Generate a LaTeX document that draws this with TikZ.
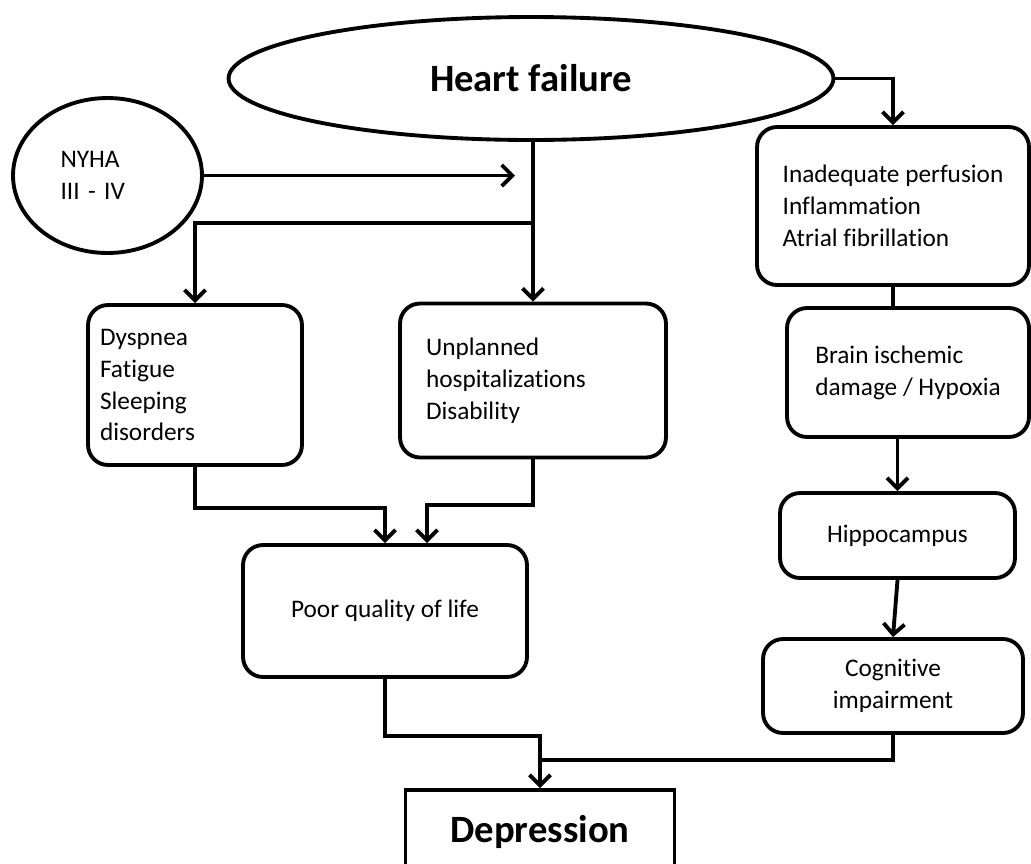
\documentclass[tikz,border=0pt]{standalone}
\usepackage{fontspec}
\setmainfont{Carlito}[Ligatures=NoCommon]
\usetikzlibrary{positioning,shapes.geometric,arrows.meta,calc}

\begin{document}
\begin{tikzpicture}[
    x=0.02cm, y=-0.02cm,
    every node/.style={font=\fontsize{14.4}{18.2}\selectfont},
    box/.style={rectangle, rounded corners=0.4cm, draw=black, line width=2.2pt, align=left},
    oval/.style={ellipse, draw=black, line width=2.2pt, inner sep=0pt},
    title/.style={font=\fontsize{22}{26}\selectfont\bfseries},
    arrow/.style={-{Straight Barb[length=6pt,width=12pt]}, line width=2.2pt},
    line/.style={line width=2.2pt}
]
    \useasboundingbox (0,0) rectangle (1031,863);
    \clip (0,0) rectangle (1031,863);

    \node[oval, title, minimum width=12.1cm, minimum height=2.46cm] (hf) at (531,78.5) {Heart failure};

    \node[oval, minimum width=3.78cm, minimum height=3.1cm, text width=1.88cm, align=left] (nyha) at (107.5,175.5) {
        NYHA \\
        III - IV
    };

    \node[box, minimum width=4.28cm, minimum height=3.2cm, text width=3.8cm, inner xsep=0.24cm] (dysp) at (195,385) {
        Dyspnea \\
        Fatigue \\
        Sleeping \\
        disorders
    };

    \node[box, minimum width=5.32cm, minimum height=3.08cm, text width=4.28cm, inner xsep=0.52cm] (unpl) at (533,380.5) {
        Unplanned \\
        hospitalizations \\
        Disability
    };

    \node[box, minimum width=5.68cm, minimum height=2.64cm, align=center] (poor) at (385,611) {Poor quality of life};

    \node[box, minimum width=5.44cm, minimum height=3.16cm] (inad) at (893,206) {
        Inadequate perfusion \\
        Inflammation \\
        Atrial fibrillation
    };

    \node[box, minimum width=4.84cm, minimum height=2.58cm] (brain) at (908,372.5) {
        Brain ischemic \\
        damage / Hypoxia
    };

    \node[box, minimum width=4.7cm, minimum height=1.7cm, align=center] (hippo) at (897.5,535.5) {Hippocampus};

    \node[box, minimum width=5.2cm, minimum height=1.88cm, align=center] (cog) at (893,686) {
        Cognitive \\
        impairment
    };

    \node[rectangle, draw=black, line width=2.2pt, title, minimum width=5.38cm, minimum height=1.68cm] (depr) at (540,832) {Depression};

    \coordinate (nyhaend) at (515,175.5);
    \coordinate (split) at (533,223);
    \coordinate (merge) at (540,760);

    % upper part
    \draw[arrow] (nyha.east) -- (nyhaend);
    \draw[arrow] (hf.south -| unpl.north) -- (unpl.north);
    \draw[arrow] (split) -| (dysp.north);
    \draw[arrow] (hf.east) -| (inad.north);

    % right column
    \draw[line] (inad.south) -- (inad.south |- brain.north);
    \draw[arrow] (hippo.north |- brain.south) -- (hippo.north);
    \draw[arrow] (hippo.south) -- (cog.north);

    % down to depression
    \draw[arrow] (dysp.south) -- ++(0,41) -| (poor.north);
    \draw[arrow] (unpl.south) -- ++(0,46) -| ($(poor.north)+(42,0)$);
    \draw[arrow] (poor.south) -- ++(0,57) -| (depr.north);
    \draw[line] (cog.south) |- (merge);
\end{tikzpicture}
\end{document}
